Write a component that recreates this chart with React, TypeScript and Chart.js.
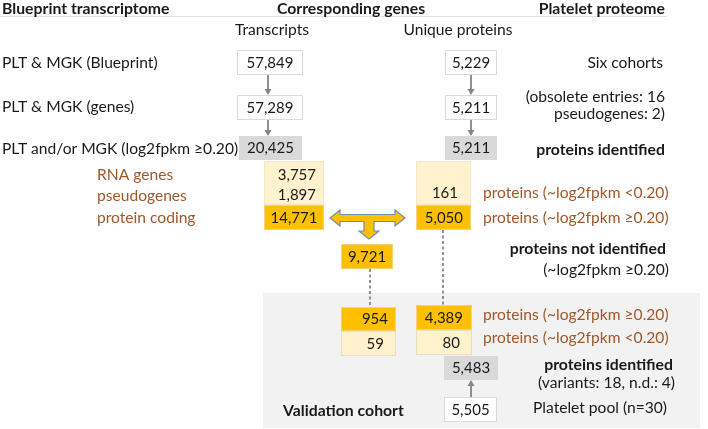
import React, { useEffect, useRef } from "react";
import { Chart, registerables } from "chart.js";

Chart.register(...registerables);

// ---------- data ----------
const transcriptCounts = [57849, 57289, 20425, 3757, 1897, 14771, 9721, 954, 59];
const proteinCounts = [5229, 5211, 5211, 161, 5050, 4389, 80, 5483, 5505];
const headers = ["Blueprint transcriptome", "Corresponding genes", "Platelet proteome"];
const columnTitles = ["Transcripts", "Unique proteins"];
const rowLabels = ["PLT & MGK (Blueprint)", "PLT & MGK (genes)", "PLT and/or MGK (log2fpkm ≥0.20)"];
const geneTypes = ["RNA genes", "pseudogenes", "protein coding"];
const proteomeNotes = [
  "Six cohorts",
  "(obsolete entries: 16",
  "pseudogenes: 2)",
  "proteins identified",
  "proteins (~log2fpkm <0.20)",
  "proteins (~log2fpkm ≥0.20)",
  "proteins not identified",
  "(~log2fpkm ≥0.20)",
];
const validationNotes = [
  "proteins (~log2fpkm ≥0.20)",
  "proteins (~log2fpkm <0.20)",
  "proteins identified",
  "(variants: 18, n.d.: 4)",
  "Platelet pool (n=30)",
  "Validation cohort",
];

// ---------- layout (data coords == pixel coords) ----------
const W = 708;
const H = 429;
const FONT = "Lato, 'Open Sans', sans-serif";
const C = {
  white: "#FFFFFF",
  gray: "#D9D9D9",
  light: "#FFF2CC",
  orange: "#FFC000",
  border: "#DADADA",
  brown: "#A0582A",
  text: "#1A1A1A",
  arrow: "#858585",
  band: "#F2F2F2",
};

type Box = { x0: number; x1: number; y0: number; y1: number; fill: string; border?: string };
type Num = { v: number; box: number; align: "center" | "right"; x?: number; y?: number };

const boxes: Box[] = [
  { x0: 237, x1: 303, y0: 50, y1: 75, fill: C.white, border: C.border },
  { x0: 237, x1: 303, y0: 95, y1: 120, fill: C.white, border: C.border },
  { x0: 239, x1: 302, y0: 136, y1: 160, fill: C.gray },
  { x0: 264, x1: 324, y0: 161, y1: 205, fill: C.light, border: "#F1E6C6" },
  { x0: 264, x1: 324, y0: 205, y1: 230, fill: C.orange, border: "#F3D27A" },
  { x0: 341, x1: 393, y0: 244, y1: 269, fill: C.orange, border: "#F3D27A" },
  { x0: 341, x1: 396, y0: 307, y1: 331, fill: C.orange, border: "#F3D27A" },
  { x0: 341, x1: 396, y0: 331, y1: 356, fill: C.light, border: "#E6DEC6" },
  { x0: 445, x1: 497, y0: 50, y1: 75, fill: C.white, border: C.border },
  { x0: 445, x1: 497, y0: 95, y1: 120, fill: C.white, border: C.border },
  { x0: 445, x1: 497, y0: 136, y1: 160, fill: C.gray },
  { x0: 416, x1: 471, y0: 161, y1: 205, fill: C.light, border: "#F1E6C6" },
  { x0: 416, x1: 471, y0: 205, y1: 230, fill: C.orange, border: "#F3D27A" },
  { x0: 416, x1: 472, y0: 305, y1: 330, fill: C.orange, border: "#F3D27A" },
  { x0: 416, x1: 472, y0: 330, y1: 355, fill: C.light, border: "#E6DEC6" },
  { x0: 444, x1: 498, y0: 356, y1: 380, fill: C.gray },
  { x0: 444, x1: 497, y0: 397, y1: 422, fill: C.white, border: C.border },
];

const transcriptPlacement: Num[] = [
  { v: 0, box: 0, align: "center" },
  { v: 1, box: 1, align: "center" },
  { v: 2, box: 2, align: "center" },
  { v: 3, box: 3, align: "right", x: 316, y: 175 },
  { v: 4, box: 3, align: "right", x: 316, y: 195 },
  { v: 5, box: 4, align: "center" },
  { v: 6, box: 5, align: "center" },
  { v: 7, box: 6, align: "right", x: 388 },
  { v: 8, box: 7, align: "right", x: 384 },
];
const proteinPlacement: Num[] = [
  { v: 0, box: 8, align: "center" },
  { v: 1, box: 9, align: "center" },
  { v: 2, box: 10, align: "center" },
  { v: 3, box: 11, align: "right", x: 458, y: 193 },
  { v: 4, box: 12, align: "right", x: 463 },
  { v: 5, box: 13, align: "right", x: 463 },
  { v: 6, box: 14, align: "right", x: 460 },
  { v: 7, box: 15, align: "center" },
  { v: 8, box: 16, align: "center" },
];

type Txt = { t: string; x: number; y: number; align: CanvasTextAlign; bold?: boolean; color?: string };
const texts: Txt[] = [
  { t: headers[0], x: 2, y: 9, align: "left", bold: true },
  { t: headers[1], x: 351, y: 9, align: "center", bold: true },
  { t: headers[2], x: 665, y: 9, align: "right", bold: true },
  { t: columnTitles[0], x: 272, y: 30, align: "center" },
  { t: columnTitles[1], x: 458, y: 30, align: "center" },
  { t: rowLabels[0], x: 2, y: 63, align: "left" },
  { t: rowLabels[1], x: 2, y: 107, align: "left" },
  { t: rowLabels[2], x: 2, y: 149, align: "left" },
  { t: geneTypes[0], x: 97, y: 175, align: "left", color: C.brown },
  { t: geneTypes[1], x: 97, y: 196, align: "left", color: C.brown },
  { t: geneTypes[2], x: 97, y: 218, align: "left", color: C.brown },
  { t: proteomeNotes[0], x: 663, y: 63, align: "right" },
  { t: proteomeNotes[1], x: 665, y: 97, align: "right" },
  { t: proteomeNotes[2], x: 665, y: 114, align: "right" },
  { t: proteomeNotes[3], x: 665, y: 150, align: "right", bold: true },
  { t: proteomeNotes[4], x: 483, y: 193, align: "left", color: C.brown },
  { t: proteomeNotes[5], x: 483, y: 218, align: "left", color: C.brown },
  { t: proteomeNotes[6], x: 666, y: 249, align: "right", bold: true },
  { t: proteomeNotes[7], x: 669, y: 270, align: "right" },
  { t: validationNotes[0], x: 483, y: 315, align: "left", color: C.brown },
  { t: validationNotes[1], x: 483, y: 338, align: "left", color: C.brown },
  { t: validationNotes[2], x: 673, y: 365, align: "right", bold: true },
  { t: validationNotes[3], x: 675, y: 383, align: "right" },
  { t: validationNotes[4], x: 533, y: 408, align: "left" },
  { t: validationNotes[5], x: 283, y: 411, align: "left", bold: true },
];

// gray arrows: [x, yFrom, yTo]
const grayArrows = [
  [268, 75, 95],
  [268, 120, 136],
  [471, 75, 95],
  [471, 120, 136],
  [471, 397, 380],
];
// dotted connectors: [x, yFrom, yTo]
const dotted = [
  [370, 269, 307],
  [443, 230, 305],
];
// T-shaped double arrow outline
const tArrow = [
  [330, 218], [340, 210], [340, 214.5], [395, 214.5], [395, 210], [405, 218],
  [395, 226], [395, 221.5], [374, 221.5], [374, 231], [379, 231], [369, 239],
  [359, 231], [364, 231], [364, 221.5], [340, 221.5], [340, 226],
];
const band = { x0: 263, x1: 700, y0: 293, y1: 428 };

function fmt(n: number) {
  return String(n).replace(/\B(?=(\d{3})+(?!\d))/g, ",");
}

const flowPlugin = {
  id: "flow",
  beforeDatasetsDraw(chart: any) {
    const ctx: CanvasRenderingContext2D = chart.ctx;
    const xs = chart.scales.x;
    const ys = chart.scales.y;
    const X = (v: number) => xs.getPixelForValue(v);
    const Y = (v: number) => ys.getPixelForValue(v);
    ctx.save();

    // validation band
    ctx.fillStyle = C.band;
    ctx.fillRect(X(band.x0), Y(band.y0), X(band.x1) - X(band.x0), Y(band.y1) - Y(band.y0));

    // header rule
    ctx.strokeStyle = "#E3E3E3";
    ctx.lineWidth = 1;
    ctx.beginPath();
    ctx.moveTo(X(0), Y(16.5));
    ctx.lineTo(X(667), Y(16.5));
    ctx.stroke();

    // boxes
    boxes.forEach((b) => {
      const x = X(b.x0), y = Y(b.y0), w = X(b.x1) - X(b.x0), h = Y(b.y1) - Y(b.y0);
      ctx.fillStyle = b.fill;
      ctx.fillRect(x, y, w, h);
      if (b.border) {
        ctx.strokeStyle = b.border;
        ctx.lineWidth = 1;
        ctx.strokeRect(x + 0.5, y + 0.5, w - 1, h - 1);
      }
    });

    // dotted connectors
    ctx.strokeStyle = "#6E6E6E";
    ctx.lineWidth = 1.5;
    ctx.setLineDash([3, 2.5]);
    dotted.forEach(([x, a, b]) => {
      ctx.beginPath();
      ctx.moveTo(X(x), Y(a));
      ctx.lineTo(X(x), Y(b));
      ctx.stroke();
    });
    ctx.setLineDash([]);

    // gray arrows
    ctx.strokeStyle = C.arrow;
    ctx.fillStyle = C.arrow;
    grayArrows.forEach(([x, a, b]) => {
      const dir = b > a ? 1 : -1;
      const px = X(x), pa = Y(a), pb = Y(b);
      ctx.lineWidth = 1.8;
      ctx.beginPath();
      ctx.moveTo(px, pa);
      ctx.lineTo(px, pb - dir * 5);
      ctx.stroke();
      ctx.beginPath();
      ctx.moveTo(px - 3.5, pb - dir * 6);
      ctx.lineTo(px + 3.5, pb - dir * 6);
      ctx.lineTo(px, pb);
      ctx.closePath();
      ctx.fill();
    });

    // T arrow
    ctx.beginPath();
    tArrow.forEach(([x, y], i) => (i ? ctx.lineTo(X(x), Y(y)) : ctx.moveTo(X(x), Y(y))));
    ctx.closePath();
    ctx.fillStyle = C.orange;
    ctx.fill();
    ctx.strokeStyle = "#6F8EB6";
    ctx.lineWidth = 1.2;
    ctx.stroke();

    // texts
    ctx.textBaseline = "middle";
    texts.forEach((t) => {
      ctx.font = `${t.bold ? "bold 15.8px" : "15.6px"} ${FONT}`;
      ctx.fillStyle = t.color || C.text;
      ctx.textAlign = t.align;
      ctx.fillText(t.t, X(t.x), Y(t.y));
    });

    // numbers
    ctx.font = `15px ${FONT}`;
    ctx.fillStyle = C.text;
    const drawNums = (vals: number[], pl: Num[]) => {
      pl.forEach((p) => {
        const b = boxes[p.box];
        const y = p.y !== undefined ? p.y : (b.y0 + b.y1) / 2;
        const x = p.align === "center" ? (b.x0 + b.x1) / 2 : (p.x as number);
        ctx.textAlign = p.align;
        ctx.fillText(fmt(vals[p.v]), X(x), Y(y + 0.5));
      });
    };
    drawNums(transcriptCounts, transcriptPlacement);
    drawNums(proteinCounts, proteinPlacement);

    ctx.restore();
  },
};

export default function App() {
  const ref = useRef<HTMLCanvasElement>(null);
  useEffect(() => {
    document.body.style.margin = "0";
    const canvas = ref.current!;
    const chart = new Chart(canvas, {
      type: "scatter",
      data: {
        datasets: [
          {
            data: boxes.map((b) => ({ x: (b.x0 + b.x1) / 2, y: (b.y0 + b.y1) / 2 })),
            pointRadius: 0,
            pointHoverRadius: 0,
          },
        ],
      },
      options: {
        responsive: false,
        animation: false,
        devicePixelRatio: 1,
        layout: { padding: 0 },
        events: [],
        plugins: { legend: { display: false }, tooltip: { enabled: false } },
        scales: {
          x: { type: "linear", min: 0, max: W, display: false },
          y: { type: "linear", min: 0, max: H, reverse: true, display: false },
        },
      },
      plugins: [flowPlugin],
    });
    return () => chart.destroy();
  }, []);
  return (
    <div style={{ width: W, height: H }}>
      <canvas ref={ref} width={W} height={H} style={{ display: "block", width: W, height: H }} />
    </div>
  );
}
